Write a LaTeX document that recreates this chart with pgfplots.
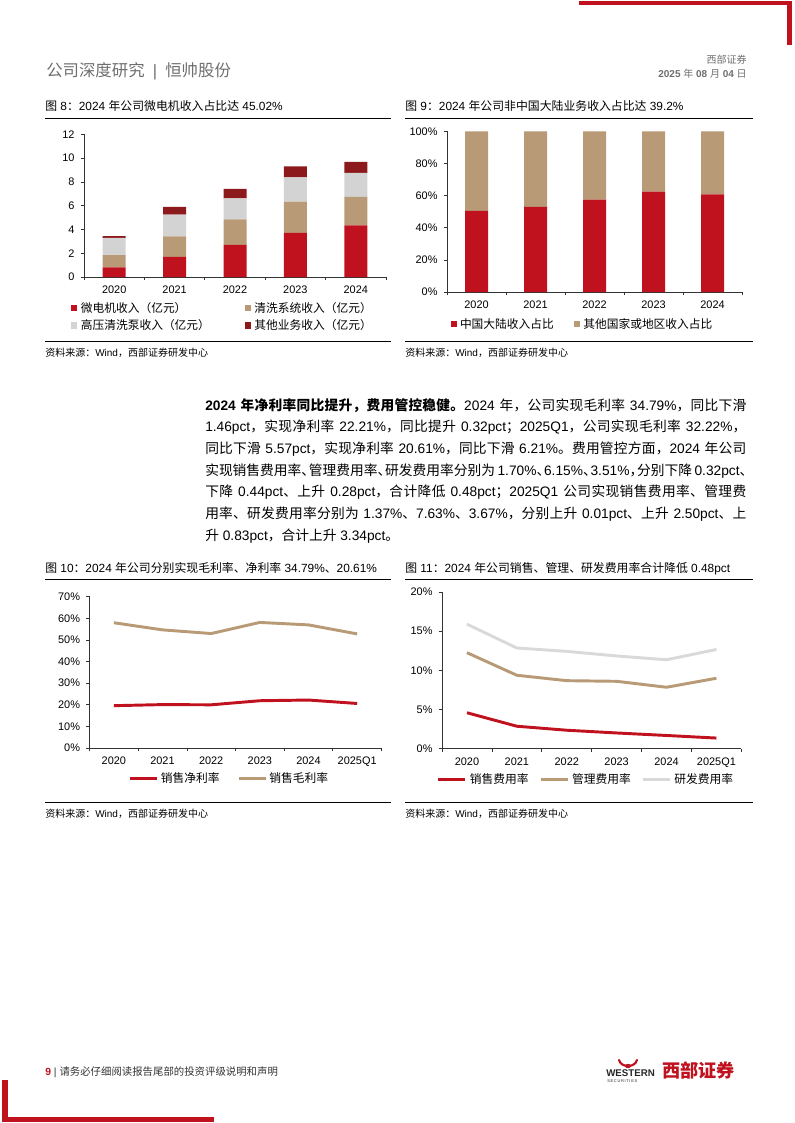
\documentclass[border=0pt]{standalone}
\usepackage{fontspec}
\usepackage{pgfplots}
\usepackage{pgfplotstable}
\pgfplotsset{compat=1.18}
\setmainfont{Liberation Sans}
\newfontfamily\cjk{Noto Sans CJK SC}

% Han characters and full-width punctuation switch to the CJK face by themselves
\XeTeXinterchartokenstate=1
\newXeTeXintercharclass\HanClass
\newXeTeXintercharclass\PunClass
\count255="4E00
\loop\XeTeXcharclass\count255=\HanClass
\ifnum\count255<"9FFF \advance\count255 by 1 \repeat
\count255="3000
\loop\XeTeXcharclass\count255=\HanClass
\ifnum\count255<"303F \advance\count255 by 1 \repeat
\count255="FF00
\loop\XeTeXcharclass\count255=\HanClass
\ifnum\count255<"FFEF \advance\count255 by 1 \repeat
\XeTeXcharclass"3001=\PunClass
\XeTeXcharclass"3002=\PunClass
\XeTeXcharclass"FF0C=\PunClass
\XeTeXcharclass"FF1A=\PunClass
\XeTeXcharclass"FF1B=\PunClass
\XeTeXinterchartoks 0 \HanClass = {\cjk}
\XeTeXinterchartoks 4095 \HanClass = {\cjk}
\XeTeXinterchartoks \HanClass 0 = {\rmfamily}
\XeTeXinterchartoks \HanClass 4095 = {\rmfamily}
\XeTeXinterchartoks \HanClass \HanClass = {\hskip0pt plus 0.4pt\relax}
\XeTeXinterchartoks \HanClass \PunClass = {\hskip0pt plus 0.4pt\relax}
\XeTeXinterchartoks 0 \PunClass = {\cjk}
\XeTeXinterchartoks 4095 \PunClass = {\cjk}
\XeTeXinterchartoks \PunClass 0 = {\hskip0pt minus 0.45em\rmfamily}
\XeTeXinterchartoks \PunClass 4095 = {\rmfamily}
\XeTeXinterchartoks \PunClass \HanClass = {\hskip0pt plus 0.4pt minus 0.45em\relax}
\XeTeXinterchartoks \PunClass \PunClass = {\hskip0pt minus 0.45em\relax}

\definecolor{cRed}{HTML}{C0111F}
\definecolor{cTan}{HTML}{B99A76}
\definecolor{cGray}{HTML}{D3D3D3}
\definecolor{cDark}{HTML}{8C1A1C}
\definecolor{cLine}{HTML}{D9D9D9}
\definecolor{cText}{HTML}{6E6E6E}

% revenue by segment, 100 million yuan
\pgfplotstableread{
x motor clean pump other
0 0.82 1.01 1.47 0.14
1 1.69 1.72 1.83 0.65
2 2.70 2.15 1.77 0.79
3 3.72 2.62 2.05 0.91
4 4.34 2.39 2.03 0.93
}\revenue
% mainland China vs rest of world, percent
\pgfplotstableread{
x cn abroad
0 50.6 49.4
1 53.1 46.9
2 57.5 42.5
3 62.6 37.4
4 60.8 39.2
}\region
% net margin, gross margin (stacked in the chart)
\pgfplotstableread{
x net gross
0 19.60 38.40
1 20.10 34.60
2 20.00 33.00
3 21.89 36.25
4 22.21 34.79
5 20.61 32.22
}\margins
% selling, admin, R&D expense ratios (stacked in the chart)
\pgfplotstableread{
x sell admin rnd
0 4.60 7.66 3.64
1 2.88 6.50 3.48
2 2.37 6.32 3.74
3 2.02 6.59 3.23
4 1.70 6.15 3.51
5 1.37 7.63 3.67
}\expenses

\pgfplotsset{
  report/.style={
    scale only axis, anchor=south west, clip=false,
    axis lines=left,
    axis line style={-, draw=black!80, line width=0.5pt},
    every tick/.style={draw=black!80, line width=0.5pt},
    tick align=outside, major tick length=2.6pt,
    ticklabel style={font=\fontsize{8.2}{9}\selectfont, text=black},
    x tick label style={yshift=-3pt},
    y tick label style={xshift=-1pt},
    /pgf/number format/assume math mode=true,
    extra x tick style={major tick length=0pt},
    legend cell align=left,
    legend style={draw=none, fill=none, inner sep=0pt, outer sep=0pt,
      font=\fontsize{8.8}{10}\selectfont, nodes={inner sep=0pt}},
  },
  sq legend/.style={legend image code/.code={\fill[##1] (0pt,-2.4pt) rectangle (4.8pt,2.4pt);}},
  ln legend/.style={legend image code/.code={\draw[##1] (0pt,0pt) -- (20.25pt,0pt);}},
}

\begin{document}
\begin{tikzpicture}
\path[use as bounding box] (0pt,0pt) rectangle (595.5pt,-842.25pt);
\begin{scope}[x=0.75pt,y=-0.75pt]
  % page corners
  \fill[cRed] (579,1) rectangle (792,5.5);
  \fill[cRed] (786.5,1) rectangle (792,45);
  \fill[cRed] (2,1080) rectangle (8,1122);
  \fill[cRed] (2,1116.5) rectangle (214,1122);
  % header
  \node[anchor=base west, inner sep=0, text=cText, font=\fontsize{12.3}{14}\selectfont]
    at (46,77) {公司深度研究\hspace{0.5em}|\hspace{0.5em}恒帅股份};
  \node[anchor=base east, inner sep=0, text=cText, font=\fontsize{7.5}{9}\selectfont]
    at (747,64) {西部证券};
  \node[anchor=base east, inner sep=0, text=cText, font=\fontsize{7.5}{9}\selectfont]
    at (747,77.5) {\textbf{2025} 年 \textbf{08} 月 \textbf{04} 日};
  % chart titles and rules, top row
  \node[anchor=base west, inner sep=0, font=\fontsize{8.9}{10}\selectfont]
    at (45,111) {图 8：2024 年公司微电机收入占比达 45.02\%};
  \node[anchor=base west, inner sep=0, font=\fontsize{8.9}{10}\selectfont]
    at (405,111) {图 9：2024 年公司非中国大陆业务收入占比达 39.2\%};
  \draw[line width=0.6pt] (45,118) -- (391,118);
  \draw[line width=0.6pt] (405,118) -- (753,118);
  \draw[line width=0.6pt] (45,341) -- (391,341);
  \draw[line width=0.6pt] (405,341) -- (753,341);
  \node[anchor=base west, inner sep=0, font=\fontsize{7.5}{9}\selectfont]
    at (45,356) {资料来源：Wind，西部证券研发中心};
  \node[anchor=base west, inner sep=0, font=\fontsize{7.5}{9}\selectfont]
    at (405,356) {资料来源：Wind，西部证券研发中心};
  % body text
  \begin{scope}[every node/.style={anchor=base west, inner sep=0, font=\fontsize{10.3}{12}\selectfont}]
    \node at (205,410) {\makebox[405.75pt][s]{\textbf{2024 年净利率同比提升，费用管控稳健。}2024 年，公司实现毛利率 34.79\%，同比下滑}};
    \node at (205,431.7) {\makebox[405.75pt][s]{1.46pct，实现净利率 22.21\%，同比提升 0.32pct；2025Q1，公司实现毛利率 32.22\%，}};
    \node at (205,453.3) {\makebox[405.75pt][s]{同比下滑 5.57pct，实现净利率 20.61\%，同比下滑 6.21\%。费用管控方面，2024 年公司}};
    \node at (205,475) {\makebox[405.75pt][s]{实现销售费用率、管理费用率、研发费用率分别为 1.70\%、6.15\%、3.51\%，分别下降 0.32pct、}};
    \node at (205,496.7) {\makebox[405.75pt][s]{下降 0.44pct、上升 0.28pct，合计降低 0.48pct；2025Q1 公司实现销售费用率、管理费}};
    \node at (205,518.3) {\makebox[405.75pt][s]{用率、研发费用率分别为 1.37\%、7.63\%、3.67\%，分别上升 0.01pct、上升 2.50pct、上}};
    \node at (205,540) {升 0.83pct，合计上升 3.34pct。};
  \end{scope}
  % chart titles and rules, bottom row
  \node[anchor=base west, inner sep=0, font=\fontsize{8.9}{10}\selectfont]
    at (45,572) {图 10：2024 年公司分别实现毛利率、净利率 34.79\%、20.61\%};
  \node[anchor=base west, inner sep=0, font=\fontsize{8.9}{10}\selectfont]
    at (405,572) {图 11：2024 年公司销售、管理、研发费用率合计降低 0.48pct};
  \draw[line width=0.6pt] (45,579) -- (391,579);
  \draw[line width=0.6pt] (405,579) -- (753,579);
  \draw[line width=0.6pt] (45,802) -- (391,802);
  \draw[line width=0.6pt] (405,802) -- (753,802);
  \node[anchor=base west, inner sep=0, font=\fontsize{7.5}{9}\selectfont]
    at (45,817) {资料来源：Wind，西部证券研发中心};
  \node[anchor=base west, inner sep=0, font=\fontsize{7.5}{9}\selectfont]
    at (405,817) {资料来源：Wind，西部证券研发中心};
  % footer
  \node[anchor=base west, inner sep=0, text=black!80, font=\fontsize{7.8}{9}\selectfont]
    at (45,1075.5) {\textcolor{cRed}{\textbf{9}} | 请务必仔细阅读报告尾部的投资评级说明和声明};
  \draw[cRed, line width=1.6pt, line cap=round] (619,1060) .. controls (621,1068) and (635,1068) .. (637,1060);
  \fill[cRed] (628,1066) ellipse (3 and 2.2);
  \node[anchor=base west, inner sep=0, text=black!85, font=\fontsize{7.3}{8}\selectfont\bfseries]
    at (606,1076) {WESTERN};
  \node[anchor=base west, inner sep=0, text=black!85, font=\fontsize{3}{3}\selectfont]
    at (607,1082.5) {S\,E\,C\,U\,R\,I\,T\,I\,E\,S};
  \node[anchor=base west, inner sep=0, text=cRed, font=\fontsize{13.6}{15}\selectfont\bfseries]
    at (662,1077.5) {西部证券};
\end{scope}

% Figure 8: revenue by segment
\begin{axis}[report, at={(63pt,-207.75pt)}, width=226.5pt, height=107pt,
  ybar stacked, bar width=17.25pt,
  xmin=-0.5, xmax=4.5, ymin=0, ymax=12, ytick={0,2,...,12},
  xtick={-0.5,0.5,...,4.5}, xticklabels={},
  extra x ticks={0,1,2,3,4}, extra x tick labels={2020,2021,2022,2023,2024},
  every axis plot post/.append style={sq legend},
  legend columns=2,
  legend style={at={(-0.043,-0.175)}, anchor=north west, row sep=4pt,
    /tikz/column 1/.style={column sep=2.6pt},
    /tikz/column 2/.style={column sep=26pt},
    /tikz/column 3/.style={column sep=2.6pt}},
]
\addplot[fill=cRed, draw=none] table[x=x, y=motor] {\revenue};
\addplot[fill=cTan, draw=none] table[x=x, y=clean] {\revenue};
\addplot[fill=cGray, draw=none] table[x=x, y=pump] {\revenue};
\addplot[fill=cDark, draw=none] table[x=x, y=other] {\revenue};
\legend{微电机收入（亿元）,清洗系统收入（亿元）,高压清洗泵收入（亿元）,其他业务收入（亿元）}
\end{axis}

% Figure 9: mainland vs overseas share
\begin{axis}[report, at={(335.25pt,-219pt)}, width=221.25pt, height=120.4pt,
  ybar stacked, bar width=17.25pt,
  xmin=-0.5, xmax=4.5, ymin=0, ymax=100, ytick={0,20,...,100},
  yticklabel={\pgfmathprintnumber{\tick}\%},
  xtick={-0.5,0.5,...,4.5}, xticklabels={},
  extra x ticks={0,1,2,3,4}, extra x tick labels={2020,2021,2022,2023,2024},
  every axis plot post/.append style={sq legend},
  legend columns=2,
  legend style={at={(0.012,-0.2)}, anchor=west,
    /tikz/column 1/.style={column sep=2.3pt},
    /tikz/column 2/.style={column sep=15pt},
    /tikz/column 3/.style={column sep=2.3pt}},
]
\addplot[fill=cRed, draw=none] table[x=x, y=cn] {\region};
\addplot[fill=cTan, draw=none] table[x=x, y=abroad] {\region};
\legend{中国大陆收入占比,其他国家或地区收入占比}
\end{axis}

% Figure 10: margins
\begin{axis}[report, at={(67.125pt,-561pt)}, width=219pt, height=113.4pt,
  stack plots=y, no markers, ln legend,
  xmin=-0.5, xmax=5.5, ymin=0, ymax=70, ytick={0,10,...,70},
  yticklabel={\pgfmathprintnumber{\tick}\%},
  xtick={-0.5,0.5,...,5.5}, xticklabels={},
  extra x ticks={0,1,2,3,4,5}, extra x tick labels={2020,2021,2022,2023,2024,2025Q1},
  legend columns=2,
  legend style={at={(0.135,-0.2)}, anchor=west,
    /tikz/column 1/.style={column sep=1.5pt},
    /tikz/column 2/.style={column sep=13.5pt},
    /tikz/column 3/.style={column sep=1.5pt}},
]
\addplot[cRed, line width=2.2pt, line join=round] table[x=x, y=net] {\margins};
\addplot[cTan, line width=2.2pt, line join=round] table[x=x, y=gross] {\margins};
\legend{销售净利率,销售毛利率}
\end{axis}

% Figure 11: expense ratios
\begin{axis}[report, at={(331.5pt,-561.6pt)}, width=224.55pt, height=117.6pt,
  stack plots=y, no markers, ln legend,
  xmin=-0.5, xmax=5.5, ymin=0, ymax=20, ytick={0,5,...,20},
  yticklabel={\pgfmathprintnumber{\tick}\%},
  xtick={-0.5,0.5,...,5.5}, xticklabels={},
  extra x ticks={0,1,2,3,4,5}, extra x tick labels={2020,2021,2022,2023,2024,2025Q1},
  legend columns=3,
  legend style={at={(-0.017,-0.195)}, anchor=west,
    /tikz/column 1/.style={column sep=2.3pt},
    /tikz/column 2/.style={column sep=7.9pt},
    /tikz/column 3/.style={column sep=2.3pt},
    /tikz/column 4/.style={column sep=7.9pt},
    /tikz/column 5/.style={column sep=2.3pt}},
]
\addplot[cRed, line width=2.2pt, line join=round] table[x=x, y=sell] {\expenses};
\addplot[cTan, line width=2.2pt, line join=round] table[x=x, y=admin] {\expenses};
\addplot[cLine, line width=2.2pt, line join=round] table[x=x, y=rnd] {\expenses};
\legend{销售费用率,管理费用率,研发费用率}
\end{axis}
\end{tikzpicture}
\end{document}
